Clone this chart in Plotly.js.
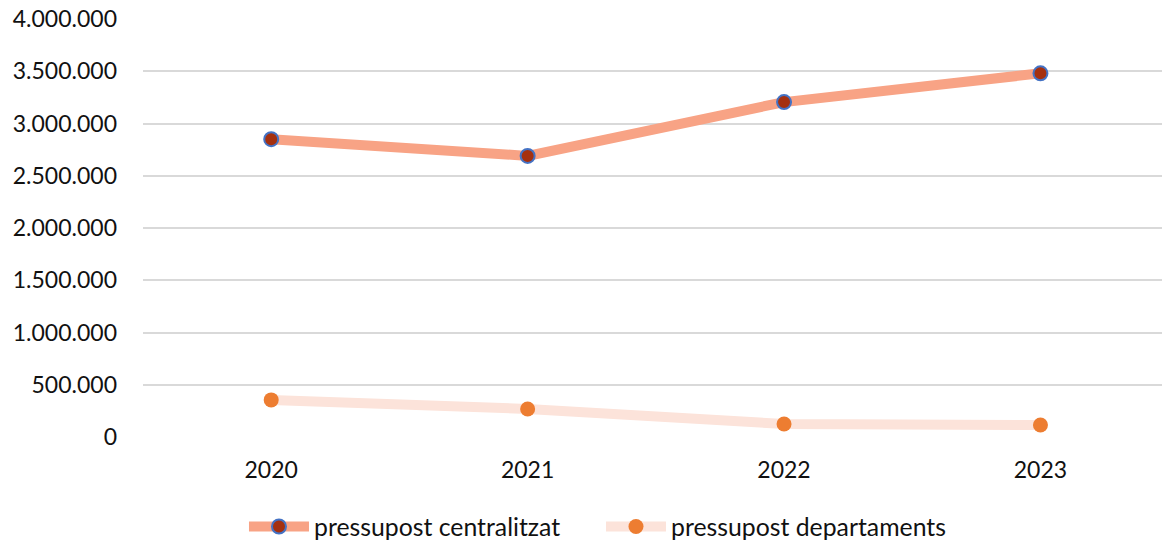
<!DOCTYPE html>
<html>
<head>
<meta charset="utf-8">
<script src="https://cdn.plot.ly/plotly-3.0.1.min.js"></script>
<style>html,body{margin:0;padding:0;background:#fff;}#chart{width:1162px;height:545px;}</style>
</head>
<body>
<div id="chart"></div>
<script>
var years = ['2020', '2021', '2022', '2023'];
var centralitzat = [2850000, 2690000, 3205000, 3480000];
var departaments = [355000, 268000, 124000, 115000];
var seriesNames = ['pressupost centralitzat', 'pressupost departaments'];
var yTicks = [0, 500000, 1000000, 1500000, 2000000, 2500000, 3000000, 3500000, 4000000];

var fontFam = 'Lato, "Open Sans", sans-serif';

var traces = [
  {
    x: years, y: centralitzat, name: seriesNames[0], type: 'scatter', mode: 'lines+markers',
    line: {color: '#F8A385', width: 10},
    marker: {color: '#A5300F', size: 14, line: {color: '#4472C4', width: 2}},
    hoverinfo: 'skip'
  },
  {
    x: years, y: departaments, name: seriesNames[1], type: 'scatter', mode: 'lines+markers',
    line: {color: '#FCE3DA', width: 10},
    marker: {color: '#ED7D31', size: 15, line: {width: 0}},
    hoverinfo: 'skip'
  }
];

var layout = {
  width: 1162, height: 545,
  margin: {l: 143, r: 0, t: 19, b: 108, autoexpand: false},
  paper_bgcolor: '#fff', plot_bgcolor: '#fff',
  separators: ',.',
  font: {family: fontFam, color: '#111', size: 23},
  showlegend: true,
  legend: {
    orientation: 'h', x: 0.0991, xanchor: 'left', y: -0.215, yanchor: 'middle',
    font: {family: fontFam, size: 24.8, color: '#111'},
    itemwidth: 60, entrywidth: 282, traceorder: 'normal', bgcolor: 'rgba(0,0,0,0)'
  },
  xaxis: {
    type: 'category', range: [-0.5, 3.474], showgrid: false, zeroline: false,
    showline: false, ticks: '', ticklabelstandoff: 17,
    tickfont: {family: fontFam, size: 23, color: '#111'}
  },
  yaxis: {
    range: [0, 4000000], tickvals: yTicks, tickformat: ',.0f',
    showgrid: true, gridcolor: '#D9D9D9', gridwidth: 2, zeroline: false,
    showline: false, ticks: '', ticklabelstandoff: 25,
    tickfont: {family: fontFam, size: 23, color: '#111'}
  }
};

Plotly.newPlot('chart', traces, layout, {displayModeBar: false, staticPlot: true});
</script>
</body>
</html>
